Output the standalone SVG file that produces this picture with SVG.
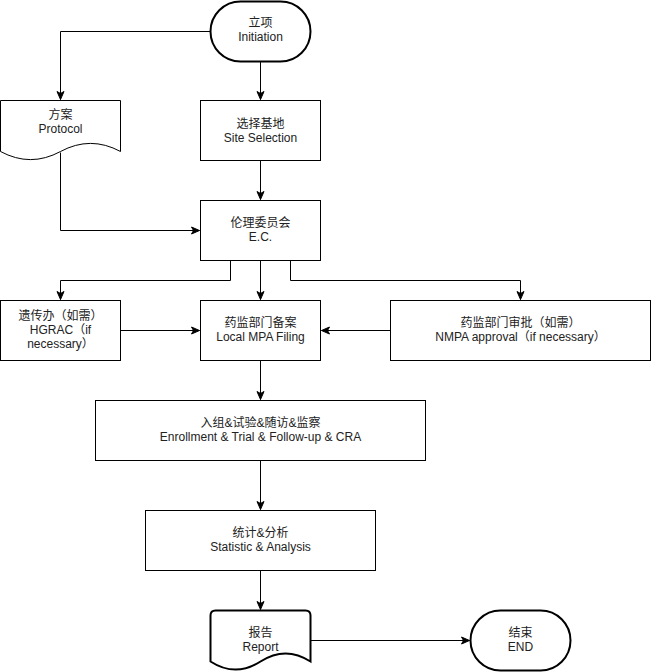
<svg xmlns="http://www.w3.org/2000/svg" width="651" height="672" viewBox="0 0 651 672">
<style>
.n{fill:#ffffff;stroke:#000000;stroke-width:1}
.t{fill:#ffffff;stroke:#000000;stroke-width:2}
.e{fill:none;stroke:#000000;stroke-width:1}
text{font-family:"Liberation Sans","Noto Sans CJK SC",sans-serif;font-size:12px;fill:#222222;text-anchor:middle}
</style>
<defs>
<marker id="a" markerUnits="userSpaceOnUse" markerWidth="10" markerHeight="10" refX="9" refY="5" orient="auto">
<path d="M1,1.5 L9,5 L1,8.5 L3,5 Z" fill="#000000" stroke="#000000" stroke-width="1"/>
</marker>
</defs>
<rect width="651" height="672" fill="#ffffff"/>
<g transform="translate(0.5,0.5)">
<g id="connectors">
<path class="e" d="M260,61 L260,99" marker-end="url(#a)"/>
<path class="e" d="M210,31 L60,31 L60,99" marker-end="url(#a)"/>
<path class="e" d="M260,160 L260,199" marker-end="url(#a)"/>
<path class="e" d="M60,152 L60,230 L199,230" marker-end="url(#a)"/>
<path class="e" d="M260,260 L260,299" marker-end="url(#a)"/>
<path class="e" d="M230,260 L230,280 L60,280 L60,299" marker-end="url(#a)"/>
<path class="e" d="M290,260 L290,280 L520,280 L520,299" marker-end="url(#a)"/>
<path class="e" d="M120,330 L199,330" marker-end="url(#a)"/>
<path class="e" d="M390,330 L321,330" marker-end="url(#a)"/>
<path class="e" d="M260,360 L260,399" marker-end="url(#a)"/>
<path class="e" d="M260,460 L260,509" marker-end="url(#a)"/>
<path class="e" d="M260,570 L260,609" marker-end="url(#a)"/>
<path class="e" d="M310,640 L469,640" marker-end="url(#a)"/>
</g>
<g id="initiation">
<rect class="t" x="210" y="1" width="100" height="60" rx="30" ry="30"/>
<text x="260" y="26">立项</text>
<text x="260" y="40">Initiation</text>
</g>
<g id="protocol">
<path class="n" d="M0,100 L120,100 L120,151 Q90,134.8 60,151 Q30,167.2 0,151 Z"/>
<text x="60" y="118">方案</text>
<text x="60" y="132">Protocol</text>
</g>
<g id="site">
<rect class="n" x="200" y="100" width="120" height="60"/>
<text x="260" y="127">选择基地</text>
<text x="260" y="141">Site Selection</text>
</g>
<g id="ec">
<rect class="n" x="200" y="200" width="120" height="60"/>
<text x="260" y="226">伦理委员会</text>
<text x="260" y="240">E.C.</text>
</g>
<g id="hgrac">
<rect class="n" x="0" y="300" width="120" height="60"/>
<text x="60" y="319">遗传办（如需）</text>
<text x="60" y="333">HGRAC（if</text>
<text x="60" y="347">necessary）</text>
</g>
<g id="mpa">
<rect class="n" x="200" y="300" width="120" height="60"/>
<text x="260" y="326">药监部门备案</text>
<text x="260" y="340">Local MPA Filing</text>
</g>
<g id="nmpa">
<rect class="n" x="390" y="300" width="260" height="60"/>
<text x="520" y="326">药监部门审批（如需）</text>
<text x="520" y="340">NMPA approval（if necessary）</text>
</g>
<g id="enrollment">
<rect class="n" x="95" y="400" width="330" height="60"/>
<text x="260" y="426">入组&amp;试验&amp;随访&amp;监察</text>
<text x="260" y="440">Enrollment &amp; Trial &amp; Follow-up &amp; CRA</text>
</g>
<g id="statistic">
<rect class="n" x="145" y="510" width="230" height="60"/>
<text x="260" y="536">统计&amp;分析</text>
<text x="260" y="550">Statistic &amp; Analysis</text>
</g>
<g id="report">
<path class="t" d="M215,610 L305,610 Q310,610 310,615 L310,661 Q285,644.8 260,661 Q235,677.2 210,661 L210,615 Q210,610 215,610 Z"/>
<text x="260" y="636">报告</text>
<text x="260" y="650">Report</text>
</g>
<g id="end">
<rect class="t" x="470" y="610" width="100" height="60" rx="30" ry="30"/>
<text x="520" y="636">结束</text>
<text x="520" y="650">END</text>
</g>
</g>
</svg>
